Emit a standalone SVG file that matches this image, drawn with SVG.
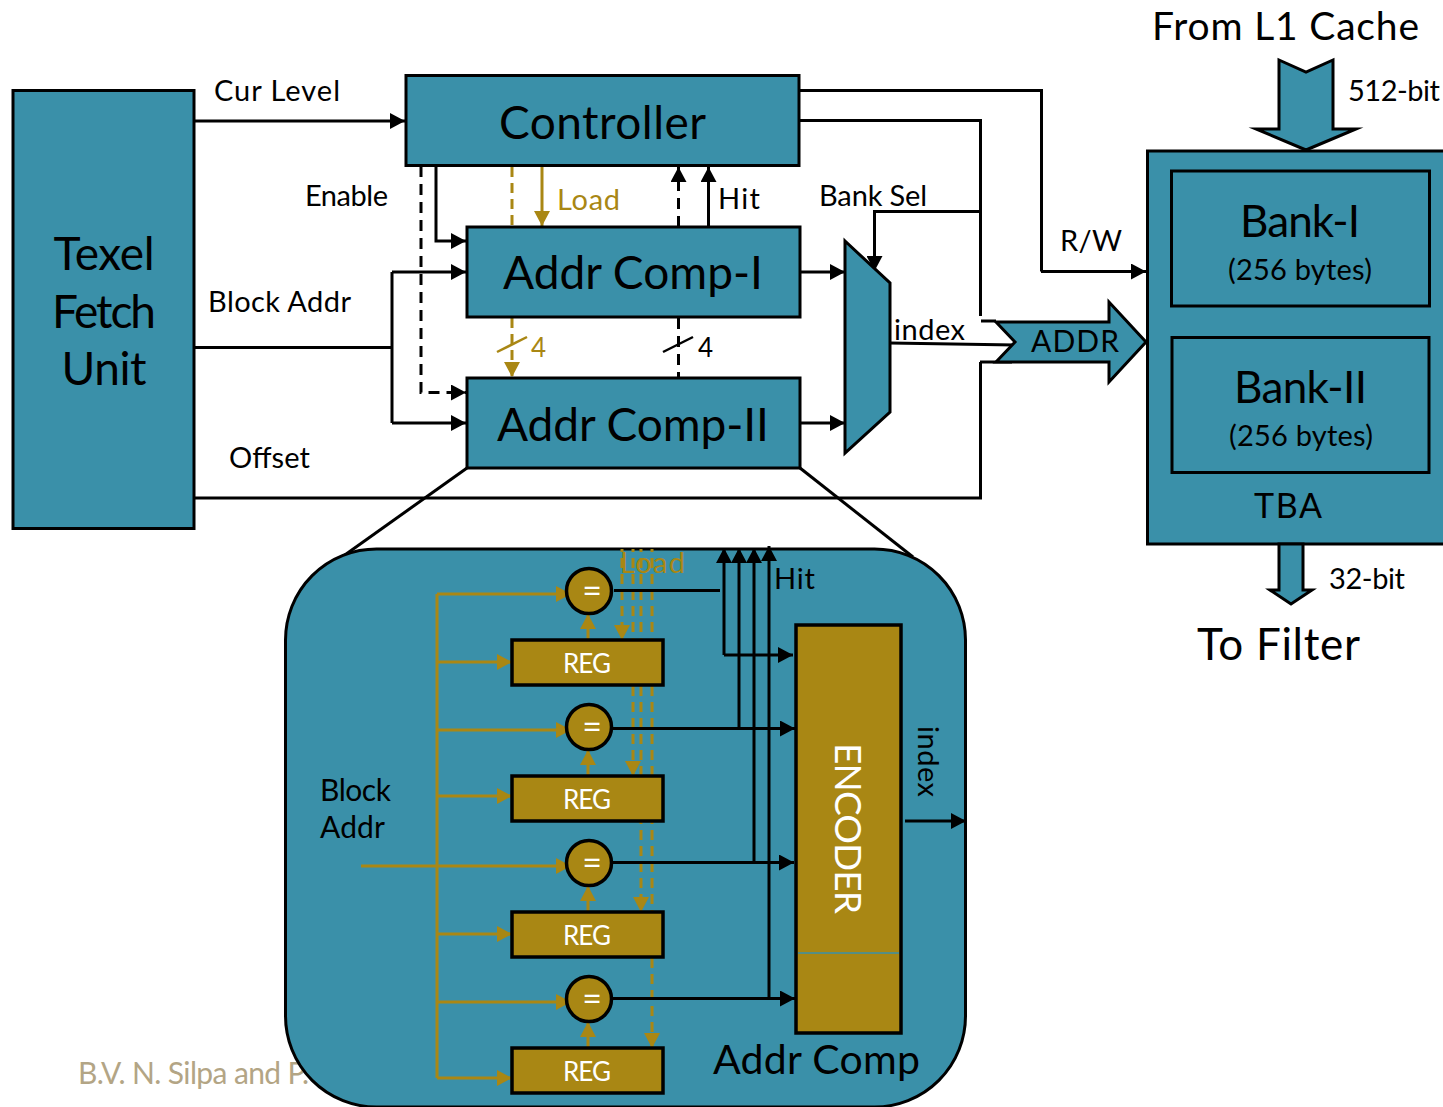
<svg xmlns="http://www.w3.org/2000/svg" width="1443" height="1107" viewBox="0 0 1443 1107">
<style>
text{font-family:"Lato","Noto Sans","Liberation Sans",sans-serif;fill:#000}
.box{fill:#3a90a9;stroke:#000;stroke-width:3;stroke-miterlimit:10}
.reg{fill:#a98714;stroke:#000;stroke-width:3.500}
.c{fill:none;stroke:#000;stroke-width:3}
.d{stroke-dasharray:11 7}
.g{fill:none;stroke:#a98714;stroke-width:3}
.gd{fill:none;stroke:#a98714;stroke-width:3;stroke-dasharray:10 6}
.gd2{fill:none;stroke:#a98714;stroke-width:3;stroke-dasharray:10 6;stroke-dashoffset:7}
.k{marker-end:url(#ak)}
.y{marker-end:url(#ay)}
.w{fill:#fff}
.gt{fill:#a98714}
.m{text-anchor:middle}
.credit{fill:#b3a585}
</style>
<defs>
<marker id="ak" markerUnits="userSpaceOnUse" markerWidth="16" markerHeight="16" refX="15" refY="8" orient="auto"><path d="M0 0L15 8L0 16z" fill="#000"/></marker>
<marker id="ay" markerUnits="userSpaceOnUse" markerWidth="16" markerHeight="16" refX="15" refY="8" orient="auto"><path d="M0 0L15 8L0 16z" fill="#a98714"/></marker>
</defs>
<text class="credit" x="78" y="1084" font-size="30" textLength="231">B.V. N. Silpa and P.</text>
<g id="connectors">
<path class="c k" d="M195 121H405"/>
<path class="c" d="M195 347.500H392"/>
<path class="c" d="M392 423V272"/>
<path class="c k" d="M392 272H466"/>
<path class="c k" d="M392 423H466"/>
<path class="c k" d="M436 166V241H466"/>
<path class="c d k" d="M421 166V392.500H466"/>
<path class="gd" d="M512 167V227"/>
<path class="g y" d="M542 166V226"/>
<path class="gd y" d="M512 318V377"/>
<path class="g" d="M497 352L527 337" style="stroke-width:2.500"/>
<path class="c d k" d="M678.500 227V167"/>
<path class="c k" d="M708.500 226V167"/>
<path class="c d" d="M678.500 318V378"/>
<path class="c" d="M663 352L693 337" style="stroke-width:2.500"/>
<path class="c k" d="M800 272H845"/>
<path class="c k" d="M800 423H845"/>
<path class="c" d="M800 90.500H1041.500V271.500"/>
<path class="c k" d="M1041 271.500H1146"/>
<path class="c" d="M800 120.500H980.500V316"/>
<path class="c k" d="M980 211.500H874.500V271"/>
<path class="c" d="M981 321H996"/>
<path class="c" d="M980 362H1012"/>
<path class="c" d="M980.500 362V498H195"/>
<path class="c" d="M890 343L1015 345"/>
<path class="c" d="M467 468L342 557"/>
<path class="c" d="M800 468L913 557"/>
</g>
<g id="texel-fetch-unit"><rect class="box" x="13" y="90.500" width="181" height="438"/>
<text class="m" x="104" y="270" font-size="46" textLength="101">Texel</text><text class="m" x="104" y="328" font-size="46" textLength="104">Fetch</text><text class="m" x="104" y="385" font-size="46" textLength="85">Unit</text></g>
<g id="controller"><rect class="box" x="406" y="75.500" width="393" height="90"/><text x="499" y="138.500" font-size="46" textLength="207">Controller</text></g>
<g id="addr-comp-1"><rect class="box" x="467" y="227" width="333" height="90"/><text x="503" y="289" font-size="46" textLength="260">Addr Comp-I</text></g>
<g id="addr-comp-2"><rect class="box" x="467" y="378" width="333" height="90"/><text x="497" y="441" font-size="46" textLength="272">Addr Comp-II</text></g>
<g id="mux"><path class="box" d="M845 241L890 283V412L845 453z"/></g>
<g id="addr-arrow"><path class="box" d="M996 322H1109V302L1146 342L1109 382V362H996L1015 342z"/><text x="1031" y="352" font-size="30" textLength="88">ADDR</text></g>
<g id="tba"><rect class="box" x="1147.500" y="151" width="300" height="393"/><text x="1254" y="518" font-size="34" textLength="68">TBA</text></g>
<g id="bank-1"><rect class="box" x="1171.500" y="171" width="258" height="135"/><text x="1240" y="237" font-size="44" textLength="120">Bank-I</text><text x="1228" y="280" font-size="29" textLength="144">(256 bytes)</text></g>
<g id="bank-2"><rect class="box" x="1172" y="337.500" width="257" height="135"/><text x="1234" y="403" font-size="44" textLength="133">Bank-II</text><text x="1229" y="446" font-size="29" textLength="144">(256 bytes)</text></g>
<g id="input-arrow"><path class="box" d="M1279 60L1306 72L1333 60V129H1356L1306 150L1256 129H1279z"/></g>
<g id="output-arrow"><path class="box" d="M1279 544H1303V590H1312L1291 604L1270 590H1279z"/></g>
<g id="addr-comp-detail"><rect class="box" x="285.500" y="549" width="680" height="558" rx="91" ry="91"/>
<text x="320" y="801" font-size="30" textLength="71">Block</text><text x="320" y="838" font-size="30" textLength="65">Addr</text><text x="713" y="1074" font-size="41" textLength="207">Addr Comp</text></g>
<g id="connectors-detail">
<path class="g" d="M437 594V1078M361 866H437"/>
<path class="g y" d="M437 594H571"/><path class="g y" d="M437 662H512"/>
<path class="g y" d="M437 730H571"/><path class="g y" d="M437 796H512"/>
<path class="g y" d="M437 866H571"/><path class="g y" d="M437 934H512"/>
<path class="g y" d="M437 1002H571"/><path class="g y" d="M437 1078H512"/>
<path class="gd2 y" d="M622 549V640"/><path class="gd2 y" d="M633 549V776"/><path class="gd2 y" d="M641 549V912"/><path class="gd2 y" d="M652 549V1048"/>
<path class="g y" d="M588 640V614"/><path class="g y" d="M588 776V750"/><path class="g y" d="M588 912V886"/><path class="g y" d="M588 1048V1022"/>
<path class="c" d="M614 590.500H720"/>
<path class="c k" d="M724 655V548"/><path class="c k" d="M739 728V548"/><path class="c k" d="M754 863V548"/><path class="c k" d="M769 998V546"/>
<path class="c k" d="M724 655H793"/>
<path class="c k" d="M612 728.500H795"/><path class="c k" d="M612 862.500H794"/><path class="c k" d="M612 998.500H795"/>
<path class="c k" d="M905 821H966"/>
</g>
<g id="eq-1"><circle class="reg" cx="589" cy="591" r="22.500"/><text class="w m" x="592" y="603" font-size="34">=</text></g>
<g id="reg-1"><rect class="reg" x="512" y="640" width="151" height="45"/><text class="w m" x="587" y="673" font-size="26" textLength="48">REG</text></g>
<g id="eq-2"><circle class="reg" cx="589" cy="727" r="22.500"/><text class="w m" x="592" y="739" font-size="34">=</text></g>
<g id="reg-2"><rect class="reg" x="512" y="776" width="151" height="45"/><text class="w m" x="587" y="809" font-size="26" textLength="48">REG</text></g>
<g id="eq-3"><circle class="reg" cx="589" cy="863" r="22.500"/><text class="w m" x="592" y="875" font-size="34">=</text></g>
<g id="reg-3"><rect class="reg" x="512" y="912" width="151" height="45"/><text class="w m" x="587" y="945" font-size="26" textLength="48">REG</text></g>
<g id="eq-4"><circle class="reg" cx="589" cy="999" r="22.500"/><text class="w m" x="592" y="1011" font-size="34">=</text></g>
<g id="reg-4"><rect class="reg" x="512" y="1048" width="151" height="45"/><text class="w m" x="587" y="1081" font-size="26" textLength="48">REG</text></g>
<g id="encoder"><rect class="reg" x="796" y="625" width="105" height="408"/><path d="M798 953H899" stroke="#3a90a9" stroke-width="1.500"/>
<text class="w" transform="translate(835 743) rotate(90)" font-size="37" textLength="171">ENCODER</text></g>
<g id="labels">
<text x="214" y="101" font-size="29" textLength="126">Cur Level</text>
<text x="305" y="206" font-size="29" textLength="83">Enable</text>
<text x="208" y="312" font-size="29" textLength="143">Block Addr</text>
<text x="229" y="468" font-size="29" textLength="81">Offset</text>
<text class="gt" x="557" y="210" font-size="29" textLength="63">Load</text>
<text x="718" y="209" font-size="29" textLength="42">Hit</text>
<text x="819" y="206" font-size="29" textLength="108">Bank Sel</text>
<text x="1060" y="251" font-size="29" textLength="62">R/W</text>
<text x="894" y="340" font-size="29" textLength="71">index</text>
<text class="gt" x="531" y="357" font-size="26">4</text>
<text x="698" y="357" font-size="26">4</text>
<text x="1152" y="40" font-size="39" textLength="267">From L1  Cache</text>
<text x="1348" y="101" font-size="29" textLength="92">512-bit</text>
<text x="1329" y="589" font-size="29" textLength="76">32-bit</text>
<text x="1197" y="660" font-size="44" textLength="163">To Filter</text>
<text class="gt" x="620" y="573" font-size="29" textLength="65">Load</text>
<text x="774" y="589" font-size="29" textLength="41">Hit</text>
<text transform="translate(918 726) rotate(90)" font-size="29" textLength="71">index</text>
</g>
</svg>
